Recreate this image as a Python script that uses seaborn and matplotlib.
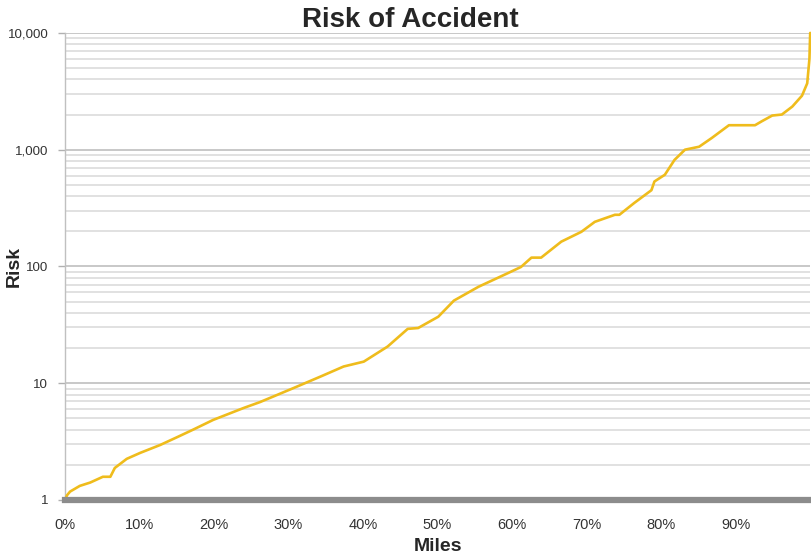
import matplotlib
matplotlib.use("Agg")
import matplotlib.pyplot as plt
import matplotlib.ticker as mticker
import numpy as np
import pandas as pd
import seaborn as sns

# Data (fraction of miles, risk)
miles = [0.000, 0.003, 0.007, 0.020, 0.034, 0.051, 0.061, 0.067, 0.083, 0.101,
         0.128, 0.151, 0.172, 0.199, 0.240, 0.262, 0.307, 0.343, 0.374, 0.401,
         0.433, 0.460, 0.474, 0.501, 0.522, 0.555, 0.595, 0.612, 0.626, 0.639,
         0.666, 0.693, 0.711, 0.738, 0.744, 0.764, 0.787, 0.791, 0.805, 0.818,
         0.832, 0.851, 0.868, 0.891, 0.926, 0.935, 0.949, 0.962, 0.976, 0.989,
         0.996, 0.999, 1.000]
risk = [1.0, 1.1, 1.18, 1.32, 1.41, 1.58, 1.58, 1.88, 2.25, 2.53,
        2.96, 3.46, 4.0, 4.85, 6.14, 6.9, 9.1, 11.4, 13.9, 15.3,
        20.6, 29.2, 29.7, 37.1, 51, 67, 88, 99, 119, 119,
        163, 198, 241, 277, 277, 350, 450, 534, 610, 818,
        1000, 1060, 1260, 1620, 1620, 1750, 1960, 2000, 2340, 2900,
        3700, 6000, 10000]

x_ticks = [0.0, 0.1, 0.2, 0.3, 0.4, 0.5, 0.6, 0.7, 0.8, 0.9]
x_tick_labels = ["0%", "10%", "20%", "30%", "40%", "50%", "60%", "70%", "80%", "90%"]
y_ticks = [1, 10, 100, 1000, 10000]
y_tick_labels = ["1", "10", "100", "1,000", "10,000"]

title = "Risk of Accident"
x_label = "Miles"
y_label = "Risk"

sns.set_style("white")
plt.rcParams["font.family"] = ["Liberation Sans", "DejaVu Sans"]

df = pd.DataFrame({"Miles": miles, "Risk": risk})

fig = plt.figure(figsize=(8.11, 5.58), dpi=100)
ax = fig.add_axes([0.080, 0.104, 0.919, 0.837])

ax.set_yscale("log")
ax.set_ylim(1, 10000)
ax.set_xlim(0, 1)

# grid
ax.yaxis.set_minor_locator(mticker.LogLocator(base=10, subs=np.arange(2, 10)))
ax.grid(which="major", axis="y", color="#c4c4c4", linewidth=1.3)
ax.grid(which="minor", axis="y", color="#dedede", linewidth=1.3)
ax.grid(which="both", axis="x", visible=False)
ax.set_axisbelow(True)

sns.lineplot(data=df, x="Miles", y="Risk", ax=ax, color="#EFBC1C",
             linewidth=1.9, estimator=None, sort=False, zorder=3, clip_on=False)

ax.set_xticks(x_ticks)
ax.set_xticklabels(x_tick_labels)
ax.set_yticks(y_ticks)
ax.set_yticklabels(y_tick_labels)
ax.yaxis.set_minor_formatter(mticker.NullFormatter())

ax.tick_params(axis="x", which="both", length=0, pad=13, labelsize=10.5, labelcolor="#333333")
ax.tick_params(axis="y", which="major", length=5, width=1, color="#b0b0b0",
               pad=7, labelsize=9.6, labelcolor="#333333", left=True)
ax.tick_params(axis="y", which="minor", length=0)

for side in ["top", "right"]:
    ax.spines[side].set_visible(False)
ax.spines["left"].set_color("#c0c0c0")
ax.spines["left"].set_linewidth(1.0)
ax.spines["bottom"].set_color("#8c8c8c")
ax.spines["bottom"].set_linewidth(4.5)
ax.spines["bottom"].set_zorder(4)

ax.set_xlabel(x_label, fontsize=14, fontweight="bold", labelpad=4)
ax.set_ylabel(y_label, fontsize=14, fontweight="bold")
ax.yaxis.set_label_coords(-0.056, 0.5)
fig.text(0.506, 0.940, title, ha="center", va="bottom", fontsize=20, fontweight="bold")

fig.savefig("out.png", dpi=100)
